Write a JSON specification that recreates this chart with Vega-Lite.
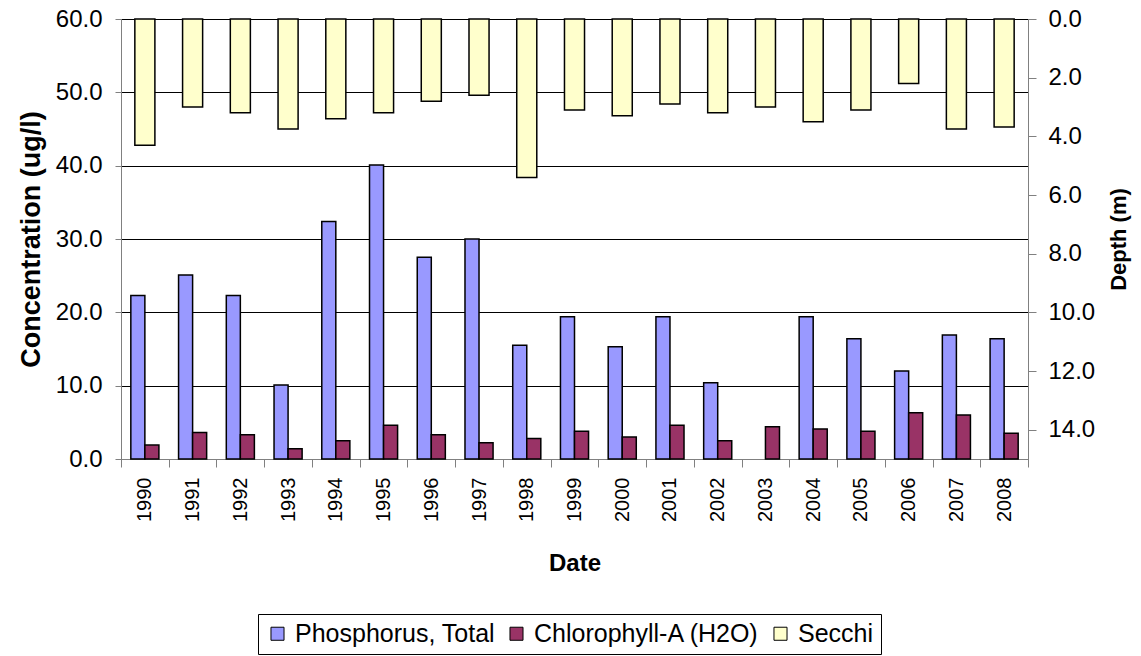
{
  "$schema": "https://vega.github.io/schema/vega-lite/v6.json",
  "width": 907,
  "height": 440,
  "autosize": {"type": "none"},
  "padding": {"left": 121, "top": 19, "right": 113, "bottom": 197},
  "background": "white",
  "config": {
    "view": {"stroke": null},
    "font": "Liberation Sans",
    "axis": {"labelFont": "Liberation Sans", "titleFont": "Liberation Sans", "labelColor": "black", "titleColor": "black", "labelFontSize": 24, "titleFontSize": 24, "titleFontWeight": "bold", "domainColor": "#808080", "tickColor": "#808080"}
  },
  "data": {
    "values": [
      {"year": "1990", "series": "Phosphorus, Total", "value": 22.3},
      {"year": "1991", "series": "Phosphorus, Total", "value": 25.1},
      {"year": "1992", "series": "Phosphorus, Total", "value": 22.3},
      {"year": "1993", "series": "Phosphorus, Total", "value": 10.1},
      {"year": "1994", "series": "Phosphorus, Total", "value": 32.4},
      {"year": "1995", "series": "Phosphorus, Total", "value": 40.1},
      {"year": "1996", "series": "Phosphorus, Total", "value": 27.5},
      {"year": "1997", "series": "Phosphorus, Total", "value": 30.0},
      {"year": "1998", "series": "Phosphorus, Total", "value": 15.5},
      {"year": "1999", "series": "Phosphorus, Total", "value": 19.4},
      {"year": "2000", "series": "Phosphorus, Total", "value": 15.3},
      {"year": "2001", "series": "Phosphorus, Total", "value": 19.4},
      {"year": "2002", "series": "Phosphorus, Total", "value": 10.4},
      {"year": "2004", "series": "Phosphorus, Total", "value": 19.4},
      {"year": "2005", "series": "Phosphorus, Total", "value": 16.4},
      {"year": "2006", "series": "Phosphorus, Total", "value": 12.0},
      {"year": "2007", "series": "Phosphorus, Total", "value": 16.9},
      {"year": "2008", "series": "Phosphorus, Total", "value": 16.4},
      {"year": "1990", "series": "Chlorophyll-A (H2O)", "value": 1.9},
      {"year": "1991", "series": "Chlorophyll-A (H2O)", "value": 3.6},
      {"year": "1992", "series": "Chlorophyll-A (H2O)", "value": 3.3},
      {"year": "1993", "series": "Chlorophyll-A (H2O)", "value": 1.4},
      {"year": "1994", "series": "Chlorophyll-A (H2O)", "value": 2.5},
      {"year": "1995", "series": "Chlorophyll-A (H2O)", "value": 4.6},
      {"year": "1996", "series": "Chlorophyll-A (H2O)", "value": 3.3},
      {"year": "1997", "series": "Chlorophyll-A (H2O)", "value": 2.2},
      {"year": "1998", "series": "Chlorophyll-A (H2O)", "value": 2.8},
      {"year": "1999", "series": "Chlorophyll-A (H2O)", "value": 3.8},
      {"year": "2000", "series": "Chlorophyll-A (H2O)", "value": 3.0},
      {"year": "2001", "series": "Chlorophyll-A (H2O)", "value": 4.6},
      {"year": "2002", "series": "Chlorophyll-A (H2O)", "value": 2.5},
      {"year": "2003", "series": "Chlorophyll-A (H2O)", "value": 4.4},
      {"year": "2004", "series": "Chlorophyll-A (H2O)", "value": 4.1},
      {"year": "2005", "series": "Chlorophyll-A (H2O)", "value": 3.8},
      {"year": "2006", "series": "Chlorophyll-A (H2O)", "value": 6.3},
      {"year": "2007", "series": "Chlorophyll-A (H2O)", "value": 6.0},
      {"year": "2008", "series": "Chlorophyll-A (H2O)", "value": 3.5},
      {"year": "1990", "series": "Secchi", "value": 4.3},
      {"year": "1991", "series": "Secchi", "value": 3.0},
      {"year": "1992", "series": "Secchi", "value": 3.2},
      {"year": "1993", "series": "Secchi", "value": 3.75},
      {"year": "1994", "series": "Secchi", "value": 3.4},
      {"year": "1995", "series": "Secchi", "value": 3.2},
      {"year": "1996", "series": "Secchi", "value": 2.8},
      {"year": "1997", "series": "Secchi", "value": 2.6},
      {"year": "1998", "series": "Secchi", "value": 5.4},
      {"year": "1999", "series": "Secchi", "value": 3.1},
      {"year": "2000", "series": "Secchi", "value": 3.3},
      {"year": "2001", "series": "Secchi", "value": 2.9},
      {"year": "2002", "series": "Secchi", "value": 3.2},
      {"year": "2003", "series": "Secchi", "value": 3.0},
      {"year": "2004", "series": "Secchi", "value": 3.5},
      {"year": "2005", "series": "Secchi", "value": 3.1},
      {"year": "2006", "series": "Secchi", "value": 2.2},
      {"year": "2007", "series": "Secchi", "value": 3.75},
      {"year": "2008", "series": "Secchi", "value": 3.68}
    ]
  },
  "encoding": {
    "x": {
      "field": "year", "type": "nominal", "sort": "ascending",
      "scale": {"paddingInner": 0, "paddingOuter": 0},
      "axis": {"title": "Date", "labelAngle": -90, "labelFontSize": 20, "tickBand": "extent", "tickSize": 8, "labelPadding": 10, "titlePadding": 30, "grid": false}
    },
    "color": {
      "field": "series", "type": "nominal",
      "scale": {"domain": ["Phosphorus, Total", "Chlorophyll-A (H2O)", "Secchi"], "range": ["#9999FF", "#993366", "#FFFFCC"]},
      "legend": {
        "title": null, "orient": "none", "legendX": 137, "legendY": 595, "direction": "horizontal",
        "columns": 3, "symbolType": "square", "symbolSize": 170, "symbolStrokeColor": "black", "symbolStrokeWidth": 1,
        "labelFont": "Liberation Sans", "labelFontSize": 25, "labelColor": "black", "labelLimit": 400,
        "strokeColor": "black", "padding": 7, "columnPadding": 8, "symbolOffset": 0, "labelOffset": 5
      }
    }
  },
  "layer": [
    {
      "transform": [{"filter": "datum.series !== 'Secchi'"}],
      "mark": {"type": "bar", "stroke": "black", "strokeWidth": 1.5},
      "encoding": {
        "xOffset": {"field": "series", "type": "nominal", "scale": {"domain": ["Phosphorus, Total", "Chlorophyll-A (H2O)"], "paddingInner": 0, "paddingOuter": 0.7}},
        "y": {
          "field": "value", "type": "quantitative",
          "scale": {"domain": [0, 60], "nice": false},
          "axis": {"title": "Concentration (ug/l)", "titleFontSize": 27, "values": [0, 10, 20, 30, 40, 50, 60], "format": ".1f", "grid": true, "gridColor": "black", "gridWidth": 1, "gridOpacity": 1, "tickSize": 6, "labelPadding": 13, "titlePadding": 10, "domainColor": "#808080"}
        }
      }
    },
    {
      "transform": [{"filter": "datum.series === 'Secchi'"}],
      "mark": {"type": "bar", "stroke": "black", "strokeWidth": 1.5, "width": {"band": 0.42}},
      "encoding": {
        "y": {
          "field": "value", "type": "quantitative",
          "scale": {"domain": [0, 15], "reverse": true, "nice": false},
          "axis": {"orient": "right", "title": "Depth (m)", "titleFontSize": 22, "titleAngle": -90, "values": [0, 2, 4, 6, 8, 10, 12, 14], "format": ".1f", "grid": false, "tickSize": 8, "labelPadding": 12, "titlePadding": 36}
        }
      }
    }
  ],
  "resolve": {"scale": {"y": "independent", "xOffset": "independent"}}
}
